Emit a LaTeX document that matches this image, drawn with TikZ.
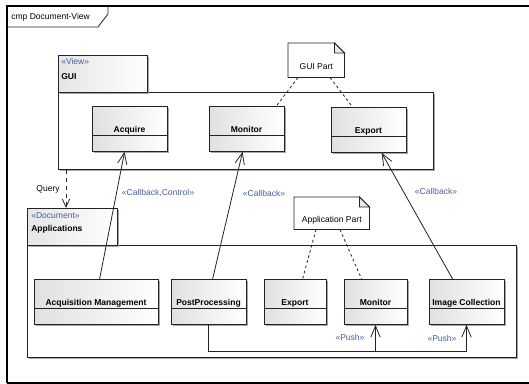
\documentclass[tikz,border=0pt]{standalone}
\usepackage{fontspec}
\setmainfont{Liberation Sans}
\usetikzlibrary{arrows.meta,shadows,calc}
\definecolor{stereo}{RGB}{70,95,155}
\definecolor{ink}{RGB}{35,35,35}
\newcommand\pxl{0.75pt}

\begin{document}
\begin{tikzpicture}[x=0.75pt,y=-0.75pt,
  every node/.style={font=\fontsize{6.4}{11}\selectfont,inner sep=0pt},
  shadowed/.style={drop shadow={shadow xshift=1.5pt,shadow yshift=-1.5pt,fill=black!35,opacity=1}},
  cls/.style={draw=ink,line width=0.6pt,left color=black!12,right color=white,shadowed,
    anchor=north,minimum width=#1*\pxl,text height=19.5pt,text depth=14.25pt,
    inner ysep=0pt,font=\fontsize{6.4}{8}\selectfont\bfseries,
    path picture={\draw[ink,line width=0.6pt]
      ([yshift=12pt]path picture bounding box.south west) --
      ([yshift=12pt]path picture bounding box.south east);}},
  pkg/.style 2 args={draw=ink,line width=0.6pt,fill=white,shadowed,anchor=north west,
    minimum width=#1*\pxl,minimum height=#2*\pxl},
  pkgtab/.style 2 args={pkg={#1}{#2},left color=black!10,right color=white},
  notebox/.style n args={4}{anchor=north west,minimum width=#1*\pxl,
    text height=#3,text depth=#4,inner ysep=0pt},
  notepath/.style={draw=ink,line width=0.6pt,fill=white},
  stereotxt/.style={text=stereo},
  dep/.style={ink,line width=0.6pt,dash pattern=on 2pt off 2pt},
  cb/.style={ink,line width=0.6pt,-{Straight Barb[length=8.5pt,width=7pt,line width=0.6pt]}},
  qry/.style={ink,line width=0.6pt,dash pattern=on 3.5pt off 2.5pt,
    -{Straight Barb[length=6pt,width=5.5pt,line width=0.6pt]}},
]
\useasboundingbox (0,0) rectangle (529,384);
\clip (0,0) rectangle (529,384);

% diagram frame with its name tab
\draw[black,line width=0.8pt] (7,383) -- (7,6) -- (560,6);
\draw[black,line width=0.8pt] (7,383) -- (560,383);
\draw[ink,line width=0.6pt] (7,27) -- (98,27) -- (108,14) -- (108,6);
\node[anchor=west] (frametitle) at (11,17) {cmp Document-View};

% GUI package
\node[pkg={375}{77}] (guibody) at (58,92) {};
\node[pkgtab={89}{37}] (guitab) at (58,55) {};
\node[anchor=north west,align=left] (guilbl) at (61,58)
  {\textcolor{stereo}{«View»}\\\textbf{GUI}};

% Applications package
\node[pkg={489}{112}] (appbody) at (27,245) {};
\node[pkgtab={90}{37}] (apptab) at (27,208) {};
\node[anchor=north west,align=left] (applbl) at (31,212)
  {\textcolor{stereo}{«Document»}\\[-1pt]\textbf{Applications}};

% GUI components
\node[cls=75] (acq)  at (129.5,106) {Acquire};
\node[cls=75] (mon1) at (246.5,106) {Monitor};
\node[cls=75] (exp1) at (368.5,107) {Export};

% application components
\node[cls=124] (acqm) at (96,279)    {Acquisition Management};
\node[cls=75]  (pp)   at (208.5,279) {PostProcessing};
\node[cls=62]  (exp2) at (295,279)   {Export};
\node[cls=63]  (mon2) at (375.5,279) {Monitor};
\node[cls=75]  (imgc) at (466.5,279) {Image Collection};

% notes
\node[notebox={56}{34}{19.5pt}{6pt}] (gnote) at (288,43) {};
\draw[notepath] (gnote.north west) -- ($(gnote.north east)+(-10,0)$)
  -- ($(gnote.north east)+(0,10)$) -- (gnote.south east) -- (gnote.south west) -- cycle;
\draw[notepath,fill=black!8] ($(gnote.north east)+(-10,0)$) |- ($(gnote.north east)+(0,10)$) -- cycle;
\node[notebox={56}{34}{19.5pt}{6pt}] at (288,43) {GUI Part};

\node[notebox={75}{32}{18.75pt}{5.25pt}] (anote) at (294,197) {};
\draw[notepath] (anote.north west) -- ($(anote.north east)+(-10,0)$)
  -- ($(anote.north east)+(0,10)$) -- (anote.south east) -- (anote.south west) -- cycle;
\draw[notepath,fill=black!8] ($(anote.north east)+(-10,0)$) |- ($(anote.north east)+(0,10)$) -- cycle;
\node[notebox={75}{32}{18.75pt}{5.25pt}] at (294,197) {Application Part};

% note links
\draw[dep] ($(gnote.south west)+(10,0)$) -- ($(mon1.north east)+(-8,0)$);
\draw[dep] ($(gnote.south west)+(42,0)$) -- ($(exp1.north west)+(22,0)$);
\draw[dep] ($(anote.south west)+(22,0)$) -- ($(exp2.north west)+(39,0)$);
\draw[dep] ($(anote.south west)+(46,0)$) -- ($(mon2.north west)+(18,0)$);

% query dependency
\draw[qry] ($(guibody.south west)+(8,0)$) -- ($(apptab.north west)+(39,0)$);
\node (lquery) at (48,189) {Query};

% callbacks
\draw[cb] ($(acqm.north west)+(66,0)$) -- ($(acq.south west)+(33,0)$);
\draw[cb] ($(pp.north west)+(42,0)$) -- ($(mon1.south west)+(34,0)$);
\draw[cb] ($(imgc.north west)+(24,0)$) -- ($(exp1.south west)+(51,0)$);
\node[stereotxt] (lcb1) at (158,193) {«Callback,Control»};
\node[stereotxt] (lcb2) at (264,193) {«Callback»};
\node[stereotxt] (lcb3) at (436,191) {«Callback»};

% push channel
\draw[cb,-] (pp.south) -- ++(0,27) coordinate (busl) -| (imgc.south);
\draw[cb] (busl -| imgc.south) -- (imgc.south);
\draw[cb] (busl -| mon2.south) -- (mon2.south);
\node[stereotxt] (lpush1) at (350,337) {«Push»};
\node[stereotxt] (lpush2) at (442,338) {«Push»};
\end{tikzpicture}
\end{document}
